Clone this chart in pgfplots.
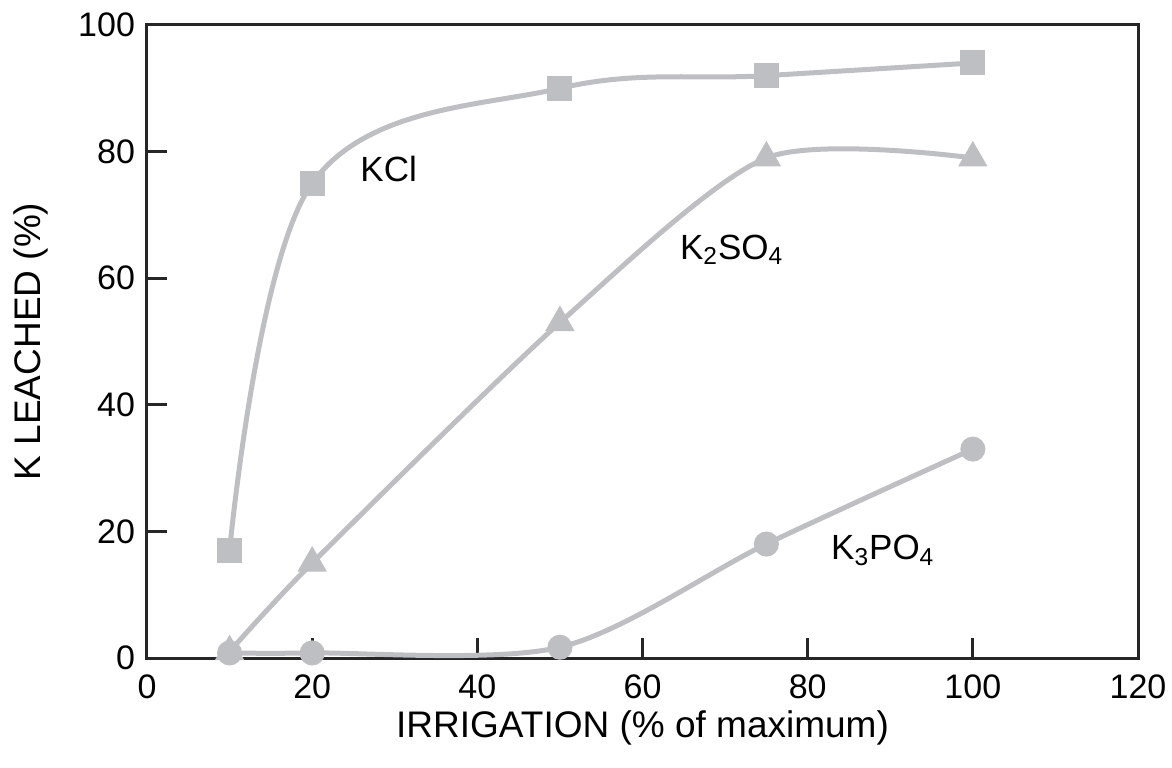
\documentclass[border=0pt]{standalone}
\usepackage{fontspec}
\setmainfont{Liberation Sans}
\usepackage{pgfplots}
\pgfplotsset{compat=1.18}
\definecolor{lgray}{RGB}{190,191,195}
\begin{document}
\begin{tikzpicture}
\begin{axis}[
  name=ax,
  scale only axis,
  width=495.5pt, height=316.5pt,
  xmin=0, xmax=120, ymin=0, ymax=100,
  xtick={0,20,...,120}, ytick={0,20,...,100},
  xtick pos=bottom, ytick pos=left,
  tick align=inside,
  major tick length=10pt,
  axis line style={line width=1.5pt, black!85},
  every tick/.style={line width=1.5pt, black!85},
  /pgf/number format/assume math mode=true,
  tick label style={font=\fontsize{17}{20}\selectfont},
  label style={font=\fontsize{18.5}{22}\selectfont},
  xlabel={IRRIGATION (\% of maximum)},
  ylabel={K LEACHED (\%)},
  xticklabel style={yshift=-5pt},
  yticklabel style={xshift=-2.5pt},
  ylabel shift=8pt,
  xlabel shift=-1pt,
  clip=false,
]
\addplot[lgray, line width=2.5pt, smooth, tension=0.6, mark=square*, mark size=5pt, mark options={solid, fill=lgray, draw=none}]
  coordinates {(10,17) (20,75) (50,90) (75,92) (100,94)};
\addplot[lgray, line width=2.5pt, smooth, tension=0.45, mark=triangle*, mark size=6pt, mark options={solid, fill=lgray, draw=none}]
  coordinates {(10,1) (20,15) (50,53) (75,79) (100,79)};
\addplot[lgray, line width=2.5pt, smooth, tension=0.5, mark=*, mark size=5pt, mark options={solid, fill=lgray, draw=none}]
  coordinates {(10,0.8) (20,0.8) (50,1.7) (75,18) (100,33)};
\node[anchor=west, inner sep=0pt, font=\fontsize{17.5}{21}\selectfont] at (axis cs:25.8,77.3) {KCl};
\node[anchor=west, inner sep=0pt, font=\fontsize{17.5}{21}\selectfont] at (axis cs:64.5,64.5) {K\textsubscript{2}SO\textsubscript{4}};
\node[anchor=west, inner sep=0pt, font=\fontsize{17.5}{21}\selectfont] at (axis cs:82.8,17) {K\textsubscript{3}PO\textsubscript{4}};
\end{axis}
\pgfresetboundingbox
\path (ax.north east) ++(17pt,12.5pt) coordinate (tr);
\path (ax.south west) ++(-73.5pt,-54.5pt) rectangle (tr);
\end{tikzpicture}
\end{document}
